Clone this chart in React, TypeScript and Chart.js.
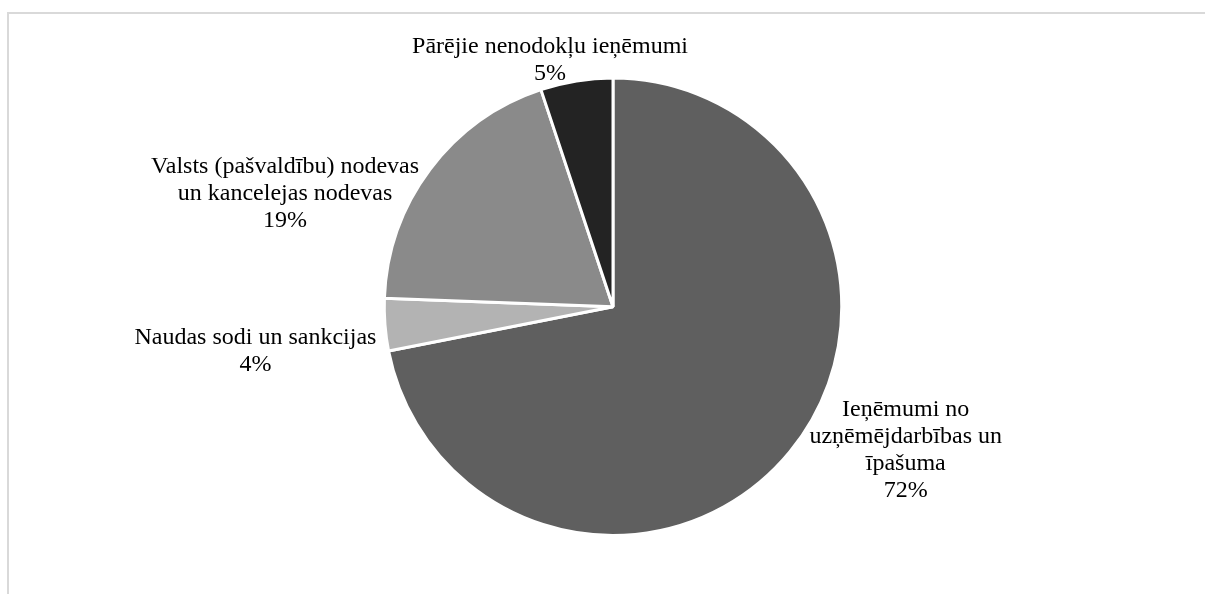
import React, { useEffect, useRef } from "react";
import { Chart, registerables } from "chart.js";

Chart.register(...registerables);

const categories: string[][] = [
  ["Ieņēmumi no", "uzņēmējdarbības un", "īpašuma"],
  ["Naudas sodi un sankcijas"],
  ["Valsts (pašvaldību) nodevas", "un kancelejas nodevas"],
  ["Pārējie nenodokļu ieņēmumi"],
];
const shares: number[] = [71.9, 3.7, 19.3, 5.1];
const sliceColors: string[] = ["#5f5f5f", "#b3b3b3", "#8a8a8a", "#232323"];
// label placement nudges relative to each slice's outer mid-point
const labelNudge: [number, number][] = [
  [116, -3.5],
  [-129.5, 25],
  [-145, 22.5],
  [-26.5, -22.5],
];

const FONT = '24px "Liberation Serif", "Times New Roman", serif';
const LINE_H = 27;

const framePlugin = {
  id: "frame",
  beforeDraw(chart: any) {
    const ctx = chart.ctx;
    ctx.save();
    ctx.strokeStyle = "#d9d9d9";
    ctx.lineWidth = 2;
    ctx.beginPath();
    ctx.moveTo(8, chart.height + 5);
    ctx.lineTo(8, 13);
    ctx.lineTo(chart.width + 5, 13);
    ctx.stroke();
    ctx.restore();
  },
};

const labelPlugin = {
  id: "pieLabels",
  afterDatasetsDraw(chart: any) {
    const ctx = chart.ctx;
    const meta = chart.getDatasetMeta(0);
    const data = chart.data.datasets[0].data as number[];
    const total = data.reduce((a, b) => a + b, 0);
    ctx.save();
    ctx.font = FONT;
    ctx.fillStyle = "#000000";
    ctx.textAlign = "center";
    ctx.textBaseline = "alphabetic";
    meta.data.forEach((arc: any, i: number) => {
      const { x, y, startAngle, endAngle, outerRadius } = arc.getProps(
        ["x", "y", "startAngle", "endAngle", "outerRadius"],
        true
      );
      const mid = (startAngle + endAngle) / 2;
      const ex = x + Math.cos(mid) * outerRadius;
      const ey = y + Math.sin(mid) * outerRadius;
      const cx = ex + labelNudge[i][0];
      const cy = ey + labelNudge[i][1];
      const lines = [...categories[i], Math.round((data[i] / total) * 100) + "%"];
      const n = lines.length;
      lines.forEach((t, k) => {
        ctx.fillText(t, cx, cy + (k - (n - 1) / 2) * LINE_H + 8);
      });
    });
    ctx.restore();
  },
};

export default function App() {
  const ref = useRef<HTMLCanvasElement | null>(null);
  useEffect(() => {
    if (!ref.current) return;
    const chart = new Chart(ref.current, {
      type: "pie",
      data: {
        labels: categories.map((c) => c.join(" ")),
        datasets: [
          {
            data: shares,
            backgroundColor: sliceColors,
            borderColor: "#ffffff",
            borderWidth: 3,
          },
        ],
      },
      options: {
        responsive: false,
        animation: false,
        events: [],
        layout: { padding: { left: 21, right: 0, top: 76.5, bottom: 57 } },
        plugins: {
          legend: { display: false },
          tooltip: { enabled: false },
        },
      },
      plugins: [framePlugin, labelPlugin],
    });
    return () => chart.destroy();
  }, []);
  return (
    <div style={{ position: "fixed", left: 0, top: 0, width: 1205, height: 594, background: "#ffffff" }}>
      <canvas ref={ref} width={1205} height={594} style={{ display: "block" }} />
    </div>
  );
}
